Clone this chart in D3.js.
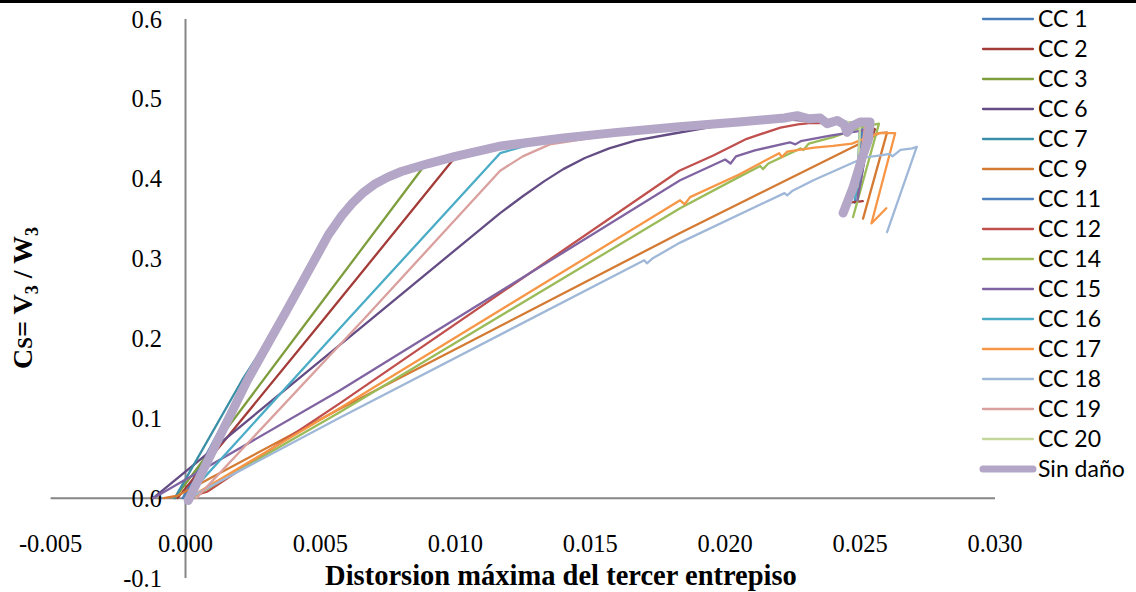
<!DOCTYPE html>
<html><head><meta charset="utf-8">
<script src="https://cdn.jsdelivr.net/npm/d3@7"></script>
<style>body{margin:0;background:#fff}svg{display:block}</style>
</head><body><svg id="c" width="1136" height="592"></svg>
<script>
const xTicks = [-0.005, 0.000, 0.005, 0.010, 0.015, 0.020, 0.025, 0.030];
const yTicks = [-0.1, 0.0, 0.1, 0.2, 0.3, 0.4, 0.5, 0.6];

const seriesNames = ["CC 1","CC 2","CC 3","CC 6","CC 7","CC 9","CC 11","CC 12","CC 14","CC 15","CC 16","CC 17","CC 18","CC 19","CC 20","Sin daño"];
const seriesColors = ["#4A7EBB","#A33B38","#7E9D3D","#644C84","#3A8EA6","#D47A33","#4F81BD","#C0504D","#9BBB59","#8064A2","#4BACC6","#F79646","#A0B8D8","#D9A09E","#C3D69B","#B3A6C6"];

const cc1 = [[-0.0001,0],[0.0023,0.150],[0.0037,0.232],[0.0053,0.330],[0.0062,0.370],[0.0070,0.393],[0.0080,0.409],[0.0100,0.428],[0.0117,0.441],[0.0160,0.458],[0.0205,0.471],[0.0222,0.476],[0.0250,0.470],[0.0252,0.466],[0.0248,0.370]];
const cc2 = [[-0.0003,0],[0.0051,0.223],[0.0099,0.423],[0.0105,0.431],[0.0117,0.440],[0.0160,0.457],[0.0205,0.470],[0.0224,0.475],[0.0252,0.468],[0.02555,0.462],[0.0246,0.370],[0.0251,0.372]];
const cc3 = [[-0.0004,0],[0.00455,0.223],[0.0088,0.414],[0.0096,0.424],[0.0117,0.440],[0.0160,0.457],[0.0205,0.470],[0.0224,0.476],[0.0253,0.468],[0.0249,0.380]];
const cc6 = [[-0.0012,0],[0.00684,0.223],[0.01166,0.357],[0.0125,0.378],[0.0133,0.397],[0.0140,0.412],[0.0148,0.426],[0.0157,0.438],[0.0167,0.448],[0.0180,0.456],[0.0195,0.465],[0.0224,0.474],[0.0253,0.466],[0.0250,0.390]];
const cc7 = [[-0.0004,0],[0.0021,0.148],[0.0037,0.232],[0.0053,0.330],[0.0062,0.370],[0.0070,0.393],[0.0080,0.409],[0.0100,0.428],[0.0117,0.441],[0.0160,0.458],[0.0205,0.471],[0.0222,0.476],[0.0250,0.470],[0.0249,0.400]];
const cc9 = [[-0.0008,0],[-0.0003,0.003],[0.00573,0.112],[0.01833,0.332],[0.0250,0.444],[0.0257,0.457],[0.0260,0.458],[0.02511,0.350]];
const cc11 = [[0.0000,0],[0.0023,0.149],[0.0037,0.232],[0.0053,0.330],[0.0062,0.370],[0.0070,0.393],[0.0080,0.409],[0.0100,0.428],[0.0117,0.441],[0.0160,0.458],[0.0205,0.471],[0.0222,0.476],[0.0251,0.469],[0.0249,0.380]];
const cc12 = [[0.0000,0],[0.0008,0.008],[0.00573,0.119],[0.0183,0.410],[0.01956,0.429],[0.0208,0.450],[0.02205,0.464],[0.0227,0.468],[0.0232,0.470],[0.0250,0.469],[0.0254,0.464],[0.0249,0.380]];
const cc14 = [[0.0002,0],[0.00573,0.108],[0.01833,0.363],[0.0205,0.402],[0.0213,0.416],[0.0214,0.412],[0.0216,0.419],[0.0228,0.438],[0.0229,0.436],[0.0231,0.444],[0.0240,0.452],[0.0250,0.464],[0.0257,0.469],[0.02474,0.352]];
const cc15 = [[-0.0012,0],[0.00573,0.135],[0.01833,0.398],[0.0200,0.424],[0.0202,0.419],[0.0204,0.428],[0.0211,0.4355],[0.0224,0.4456],[0.0226,0.443],[0.0228,0.447],[0.0239,0.454],[0.0250,0.460],[0.02537,0.463],[0.0249,0.373]];
const cc16 = [[0.0000,0],[0.0060,0.223],[0.01166,0.432],[0.0128,0.443],[0.0160,0.457],[0.0205,0.470],[0.0224,0.476],[0.0252,0.468],[0.02537,0.457],[0.0248,0.375]];
const cc17 = [[0.0001,0],[0.00573,0.113],[0.01833,0.373],[0.0185,0.368],[0.0187,0.377],[0.0205,0.405],[0.0220,0.432],[0.0221,0.427],[0.0223,0.434],[0.0233,0.439],[0.0240,0.441],[0.0247,0.444],[0.0253,0.452],[0.0257,0.457],[0.0263,0.457],[0.02542,0.344],[0.02597,0.363]];
const cc18 = [[0.0001,0],[0.00573,0.101],[0.0170,0.298],[0.0171,0.294],[0.0173,0.300],[0.01833,0.320],[0.0222,0.382],[0.0223,0.379],[0.0225,0.385],[0.02327,0.398],[0.0250,0.424],[0.02526,0.427],[0.0257,0.429],[0.0261,0.431],[0.0262,0.428],[0.0265,0.436],[0.02694,0.438],[0.0271,0.440],[0.0260,0.333]];
const cc19 = [[0.0004,0],[0.00658,0.223],[0.01166,0.410],[0.0125,0.428],[0.0135,0.443],[0.0160,0.456],[0.0205,0.470],[0.0224,0.475],[0.0252,0.468],[0.0249,0.400]];
const cc20 = [[0.0001,0],[0.0023,0.148],[0.0037,0.232],[0.0053,0.330],[0.0062,0.370],[0.0070,0.393],[0.0080,0.409],[0.0100,0.428],[0.0117,0.441],[0.0160,0.458],[0.0205,0.471],[0.0222,0.476],[0.0250,0.470],[0.0249,0.390]];
const sinDano = [[0.0001,-0.003],[0.0023,0.148],[0.0037,0.232],[0.0053,0.330],[0.0058,0.354],[0.0062,0.370],[0.0066,0.383],[0.0070,0.393],[0.0075,0.402],[0.0080,0.409],[0.0090,0.419],[0.0100,0.428],[0.0117,0.441],[0.0140,0.451],[0.0160,0.458],[0.0183,0.465],[0.0205,0.471],[0.0222,0.476],[0.02267,0.479],[0.0231,0.475],[0.02352,0.476],[0.02378,0.469],[0.02415,0.473],[0.0244,0.468],[0.02452,0.458],[0.0247,0.466],[0.0250,0.471],[0.02537,0.471],[0.0253,0.448],[0.02508,0.427],[0.02474,0.389],[0.02437,0.357]];

const seriesData = [cc1,cc2,cc3,cc6,cc7,cc9,cc11,cc12,cc14,cc15,cc16,cc17,cc18,cc19,cc20,sinDano];

const svg = d3.select("#c");
svg.append("rect").attr("x",0).attr("y",0).attr("width",1136).attr("height",3).attr("fill","#000");

const x = d3.scaleLinear().domain([-0.005, 0.030]).range([50.6, 995]);
const y = d3.scaleLinear().domain([-0.1, 0.6]).range([578, 19]);

const axisColor = "#868686";
svg.append("line").attr("x1",x(-0.005)).attr("x2",x(0.030)).attr("y1",y(0)).attr("y2",y(0))
  .attr("stroke",axisColor).attr("stroke-width",2);
svg.append("line").attr("x1",x(0)).attr("x2",x(0)).attr("y1",y(0.6)).attr("y2",y(-0.1))
  .attr("stroke",axisColor).attr("stroke-width",2);

const serif = "'Liberation Serif','Times New Roman',serif";
const fmt = f => d => d3.format(f)(d).replace("\u2212","-");
svg.append("g").selectAll("text").data(yTicks).join("text")
  .attr("x",162).attr("y",d=>y(d)).attr("dy","0.35em")
  .attr("text-anchor","end").attr("font-family",serif).attr("font-size",24.5).attr("fill","#000")
  .text(fmt(".1f"));
svg.append("g").selectAll("text").data(xTicks).join("text")
  .attr("x",d=>x(d)).attr("y",552)
  .attr("text-anchor","middle").attr("font-family",serif).attr("font-size",24.5).attr("fill","#000")
  .text(fmt(".3f"));

svg.append("text").attr("x",561).attr("y",585).attr("text-anchor","middle")
  .attr("font-family",serif).attr("font-weight","bold").attr("font-size",28.5).attr("fill","#000")
  .text("Distorsion máxima del tercer entrepiso");

const yt = svg.append("text").attr("transform","translate(32,298) rotate(-90)").attr("text-anchor","middle")
  .attr("font-family",serif).attr("font-weight","bold").attr("font-size",28).attr("fill","#000");
yt.append("tspan").text("C");
yt.append("tspan").attr("font-size",21).text("S");
yt.append("tspan").text("= V");
yt.append("tspan").attr("font-size",18).attr("dy",6).text("3");
yt.append("tspan").attr("dy",-6).text(" / W");
yt.append("tspan").attr("font-size",18).attr("dy",6).text("3");

const line = d3.line().x(d=>x(d[0])).y(d=>y(d[1]));
const g = svg.append("g");
seriesData.forEach((s,i)=>{
  const last = i === seriesData.length-1;
  g.append("path").attr("d",line(s)).attr("fill","none")
    .attr("stroke",seriesColors[i]).attr("stroke-width", last ? 9 : 2.3)
    .attr("stroke-linejoin","round").attr("stroke-linecap","round");
});

const lg = svg.append("g");
seriesNames.forEach((n,i)=>{
  const ly = 19 + i*30;
  const last = i === seriesNames.length-1;
  lg.append("line").attr("x1",983).attr("x2",1033).attr("y1",ly).attr("y2",ly)
    .attr("stroke",seriesColors[i]).attr("stroke-width", last ? 7 : 2.3).attr("stroke-linecap","round");
  lg.append("text").attr("x",1038).attr("y",ly).attr("dy","0.36em")
    .attr("font-family","Lato, 'Open Sans', sans-serif").attr("font-size",23).attr("fill","#000").text(n);
});
</script></body></html>
